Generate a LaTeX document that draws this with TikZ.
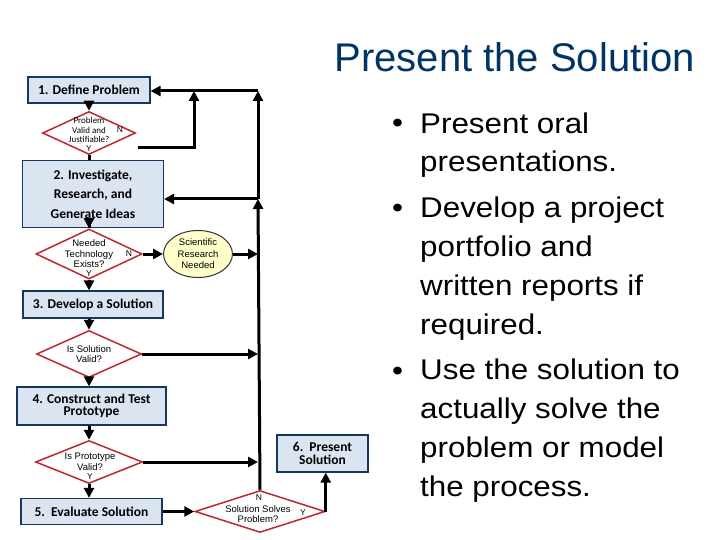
\documentclass[tikz,border=0pt]{standalone}
\usepackage{fontspec}
\setmainfont{Liberation Sans}
\newfontfamily\boxfont{Carlito}
\newfontfamily\bulletfont[FakeStretch=1.1]{Liberation Sans}
\usepackage{tikz}
\usetikzlibrary{arrows.meta, calc, shapes.geometric}
\definecolor{boxblue}{RGB}{219,229,241}
\definecolor{boxedge}{RGB}{23,55,94}
\definecolor{decred}{RGB}{190,40,45}
\definecolor{notepale}{RGB}{255,255,204}
\definecolor{titleblue}{RGB}{0,51,102}

\begin{document}
\begin{tikzpicture}[x=1pt, y=-1pt,
	stepbox/.style={draw=boxedge, fill=boxblue, line width=1.2pt, inner sep=0pt, align=center, font=\boxfont\bfseries\fontsize{13.5}{19.5}\selectfont},
	tightbox/.style={stepbox, font=\boxfont\bfseries\fontsize{13.5}{12.5}\selectfont},
	decision/.style={diamond, draw=decred, fill=white, line width=1.5pt, inner sep=0pt},
	dectext/.style={align=center, inner sep=0pt, font=\fontsize{9.5}{10.5}\selectfont},
	yesno/.style={inner sep=0pt, font=\fontsize{8.5}{9}\selectfont},
	flow/.style={line width=3pt, -{Triangle[length=10pt, width=10pt]}},
	link/.style={line width=3pt},
	bullet/.style={anchor=base west, align=left, inner sep=0pt, font=\bulletfont\fontsize{28.5}{38.7}\selectfont}]

	\useasboundingbox[fill=white] (0,0) rectangle (720,540);

	% steps
	\node[stepbox, minimum width=122pt, minimum height=26pt] (b1) at (89,90) {1. Define Problem};
	\node[stepbox, minimum width=141pt, minimum height=67pt] (b2) at (93,194) {2. Investigate,\\Research, and\\Generate Ideas};
	\node[stepbox, minimum width=140pt, minimum height=27pt] (b3) at (93,304.5) {3. Develop a Solution};
	\node[tightbox, minimum width=149pt, minimum height=38pt] (b4) at (91.5,406) {4. Construct and Test\\Prototype};
	\node[stepbox, minimum width=141pt, minimum height=26pt] (b5) at (91.5,511.5) {5.\ \ Evaluate Solution};
	\node[tightbox, minimum width=91pt, minimum height=37pt] (b6) at (322.5,453.5) {6.\ \ Present\\Solution};

	% decisions
	\node[decision, minimum width=93pt, minimum height=43pt] (d1) at (89,133) {};
	\node[decision, minimum width=106pt, minimum height=50pt] (d2) at (89,254) {};
	\node[decision, minimum width=105pt, minimum height=47pt] (d3) at (89,354) {};
	\node[decision, minimum width=107pt, minimum height=43pt] (d4) at (89,462) {};
	\node[decision, minimum width=130pt, minimum height=42pt] (d5) at (260,511.5) {};

	\node[dectext, font=\boxfont\fontsize{9}{9.3}\selectfont] (d1txt) at (89,130) {Problem\\Valid and\\Justifiable?};
	\node[yesno] (d1n) at (120,130) {N};
	\node[yesno] (d1y) at (89,149) {Y};
	\node[dectext] (d2txt) at (89,254) {Needed\\Technology\\Exists?};
	\node[yesno] (d2n) at (129,254) {N};
	\node[yesno] (d2y) at (89,274) {Y};
	\node[dectext] (d3txt) at (89,354) {Is Solution\\Valid?};
	\node[dectext] (d4txt) at (90,462) {Is Prototype\\Valid?};
	\node[yesno] (d4y) at (90,477) {Y};
	\node[dectext] (d5txt) at (258,514) {Solution Solves\\Problem?};
	\node[yesno] (d5n) at (259,498) {N};
	\node[yesno] (d5y) at (303,513) {Y};

	\node[ellipse, draw=black!80, fill=notepale, line width=1pt, inner sep=0pt, minimum width=69pt, minimum height=47pt, align=center, font=\fontsize{9.5}{11.5}\selectfont] (ell) at (198,254) {Scientific\\Research\\Needed};

	% main loop
	\coordinate (top) at (258,91);
	\coordinate (mid) at (258,199);
	\coordinate (loop) at (194,91);
	\coordinate (nout) at (138,148);

	\draw[flow] (b1.south -| d1.north) -- (d1.north);
	\draw[link] (d1.south) -- (d1.south |- b2.north);
	\draw[flow] (b2.south -| d2.north) -- (d2.north);
	\draw[flow] (d2.south) -- (d2.south |- b3.north);
	\draw[flow] (b3.south -| d3.north) -- (d3.north);
	\draw[flow] (d3.south) -- (d3.south |- b4.north);
	\draw[flow] (b4.south -| d4.north) -- (d4.north);
	\draw[flow] (d4.south) -- (d4.south |- b5.north);

	\draw[flow] (nout) -| (loop);
	\draw[flow] (top) -- (top -| b1.east);
	\draw[flow] (mid) -- (top);
	\draw[flow] (d5.north) -- (mid);
	\draw[flow] (mid) -- (mid -| b2.east);
	\draw[flow] (d2.east) -- (ell.west);
	\draw[flow] (ell.east) -- (ell.east -| mid);
	\draw[flow] (d3.east) -- (d3.east -| mid);
	\draw[flow] (d4.east) -- (d4.east -| mid);
	\draw[flow] (b5.east) -- (d5.west);
	\draw[flow] (d5.east) -- (d5.east |- b6.south);

	% text (base of a multi-line node is its last line)
	\node[anchor=base east, inner sep=0pt, text=titleblue, font=\fontsize{40}{48}\selectfont] (title) at (695,72) {Present the Solution};

	\node[bullet] (dot1) at (392,133) {•};
	\node[bullet] (p1) at (420,172) {Present oral\\presentations.};
	\node[bullet] (dot2) at (392,218) {•};
	\node[bullet] (p2) at (420,334) {Develop a project\\portfolio and\\written reports if\\required.};
	\node[bullet] (dot3) at (392,380) {•};
	\node[bullet] (p3) at (420,496) {Use the solution to\\actually solve the\\problem or model\\the process.};

\end{tikzpicture}
\end{document}
